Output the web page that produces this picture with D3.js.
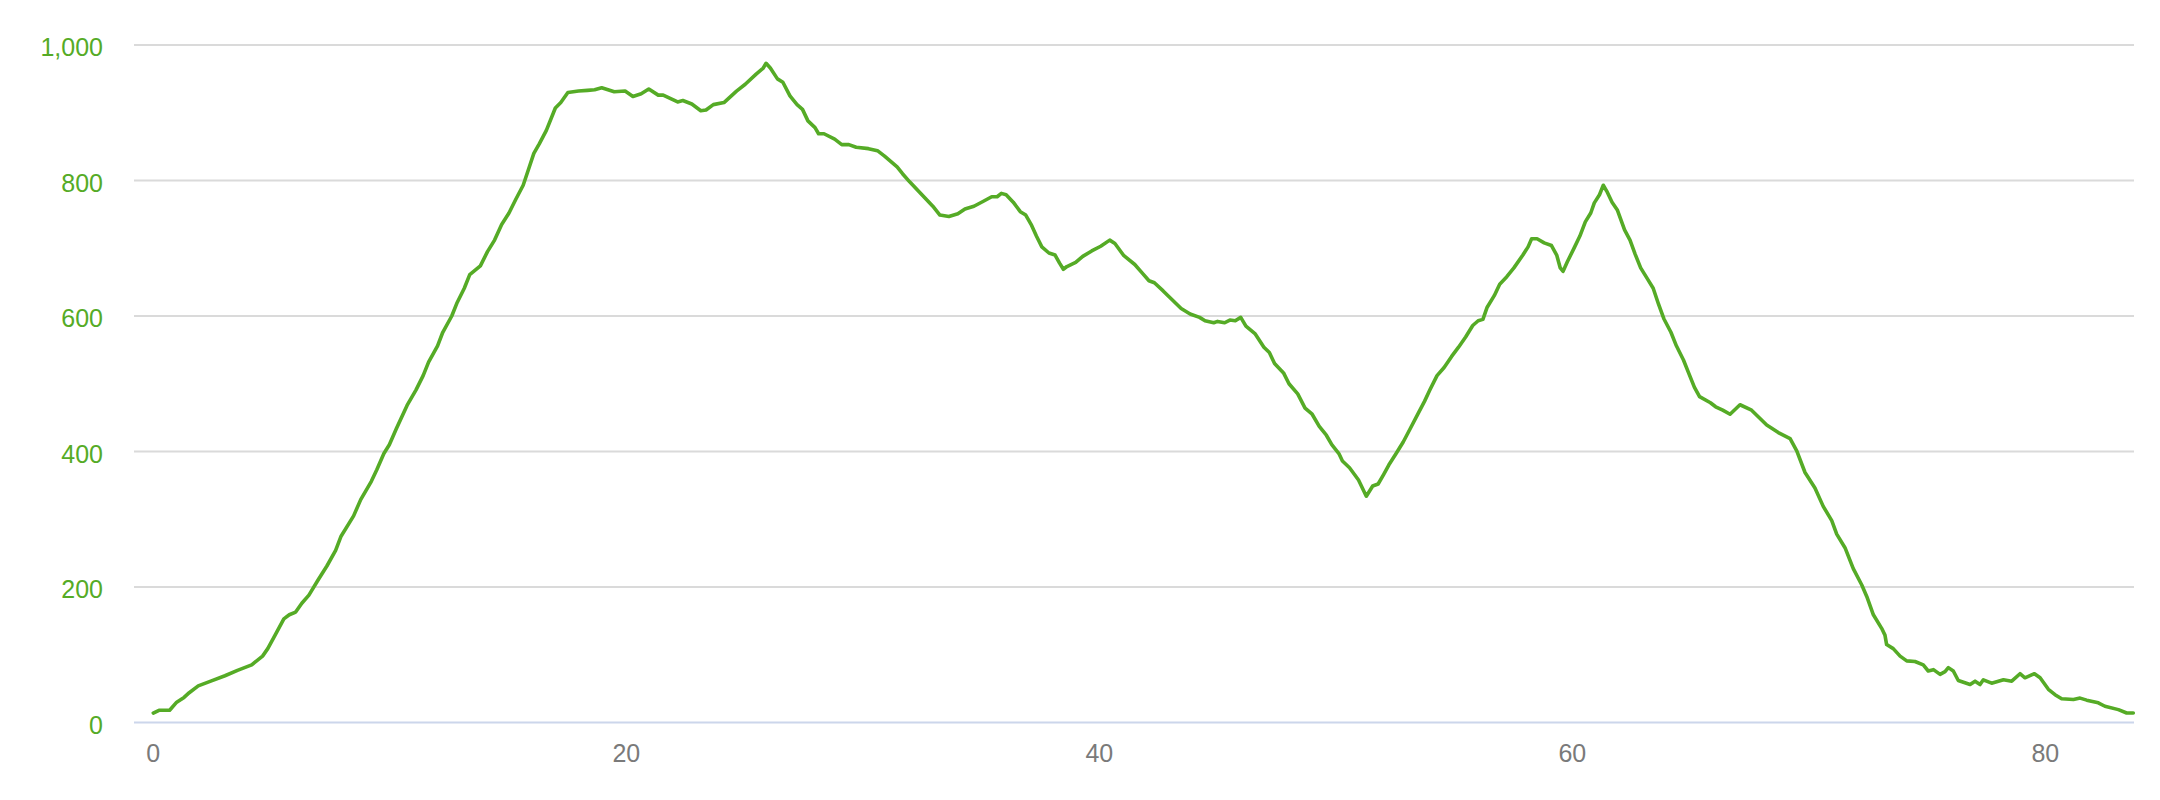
<!DOCTYPE html>
<html>
<head>
<meta charset="utf-8">
<script src="https://cdn.jsdelivr.net/npm/d3@7"></script>
<style>
  body { margin: 0; background: #fff; }
  svg { display: block; font-family: "Lucida Grande", "Liberation Sans", Arial, sans-serif; }
</style>
</head>
<body>
<div id="chart"></div>
<script>
// distance (km) along the route
const distance = [
  0, 0.24, 0.69, 0.99, 1.3, 1.52, 1.9, 2.43, 3.03, 3.56, 4.16, 4.62, 4.84, 5.15, 5.52, 5.75,
  6.02, 6.28, 6.58, 6.96, 7.34, 7.71, 7.94, 8.47, 8.77, 9.22, 9.45, 9.75, 9.98, 10.28, 10.73,
  11.11, 11.41, 11.64, 12.02, 12.24, 12.62, 12.85, 13.15, 13.38, 13.83, 14.13, 14.43, 14.73,
  15.04, 15.34, 15.64, 15.87, 16.09, 16.32, 16.62, 17.0, 17.23, 17.53, 17.98, 18.36, 18.66,
  18.96, 19.49, 19.95, 20.28, 20.63, 20.95, 21.35, 21.56, 22.17, 22.39, 22.77, 23.15, 23.37,
  23.68, 24.13, 24.66, 25.03, 25.49, 25.79, 25.91, 26.09, 26.39, 26.62, 26.92, 27.22, 27.45,
  27.68, 27.98, 28.13, 28.36, 28.81, 29.11, 29.41, 29.72, 30.24, 30.62, 30.92, 31.45, 31.68,
  31.98, 32.36, 32.66, 32.96, 33.26, 33.64, 34.02, 34.32, 34.7, 35.08, 35.45, 35.68, 35.86,
  36.06, 36.36, 36.66, 36.89, 37.12, 37.34, 37.57, 37.87, 38.13, 38.32, 38.48, 38.63, 39.0,
  39.3, 39.68, 40.06, 40.44, 40.66, 41.04, 41.5, 41.8, 42.1, 42.33, 42.7, 43.08, 43.46, 43.84,
  44.24, 44.47, 44.84, 45.0, 45.3, 45.52, 45.75, 45.98, 46.2, 46.58, 46.96, 47.19, 47.41,
  47.79, 48.02, 48.39, 48.7, 49.0, 49.3, 49.6, 49.83, 50.13, 50.28, 50.58, 50.96, 51.29,
  51.56, 51.79, 52.02, 52.24, 52.55, 52.85, 53.15, 53.45, 53.75, 53.98, 54.28, 54.58, 54.89,
  55.19, 55.49, 55.79, 56.02, 56.22, 56.4, 56.7, 56.93, 57.23, 57.53, 57.91, 58.13, 58.28,
  58.51, 58.81, 59.12, 59.34, 59.49, 59.61, 59.79, 60.1, 60.32, 60.55, 60.78, 60.93, 61.15,
  61.31, 61.46, 61.68, 61.91, 62.21, 62.44, 62.66, 62.89, 63.19, 63.42, 63.65, 63.87, 64.17,
  64.4, 64.7, 64.93, 65.16, 65.38, 65.84, 66.06, 66.36, 66.67, 67.09, 67.58, 68.22, 68.71,
  69.21, 69.49, 69.84, 70.26, 70.61, 70.97, 71.18, 71.53, 71.88, 72.24, 72.45, 72.73, 73.08,
  73.22, 73.29, 73.57, 73.86, 74.14, 74.49, 74.84, 75.05, 75.27, 75.55, 75.76, 75.9, 76.11,
  76.32, 76.82, 77.03, 77.24, 77.38, 77.73, 78.23, 78.58, 78.93, 79.14, 79.54, 79.78, 80.13,
  80.41, 80.69, 81.19, 81.47, 81.75, 82.24, 82.52, 83.09, 83.44, 83.72
];

// elevation (m) at each distance
const elevation = [
  14, 18, 18, 30, 37, 44, 54, 61, 69, 77, 85, 98, 109, 129, 153, 159,
  163, 176, 188, 210, 231, 254, 275, 305, 329, 356, 373, 397, 410, 434, 468,
  491, 512, 532, 556, 576, 600, 620, 641, 661, 674, 695, 712, 735,
  752, 773, 793, 817, 840, 854, 874, 907, 915, 930, 932, 933, 934,
  937, 931, 932, 924, 928, 935, 926, 926, 916, 918, 913, 903, 904,
  912, 915, 932, 942, 957, 966, 973, 966, 950, 945, 925, 912, 905,
  888, 878, 869, 869, 861, 853, 853, 849, 847, 844, 836, 820, 810,
  798, 784, 773, 762, 749, 747, 751, 758, 762, 769, 776, 776, 781,
  779, 768, 754, 749, 735, 718, 702, 693, 690, 678, 669, 673, 679,
  688, 696, 703, 712, 707, 689, 676, 664, 652, 649, 637, 624, 611, 603,
  598, 593, 590, 592, 590, 594, 593, 598, 585, 574, 554, 546, 530,
  516, 500, 485, 464, 455, 437, 424, 410, 397, 386, 376, 358, 334,
  349, 352, 366, 380, 397, 414, 434, 454, 474, 491, 512, 524, 540,
  554, 569, 586, 593, 595, 613, 630, 647, 658, 671, 690, 702, 714,
  714, 708, 704, 690, 671, 666, 680, 702, 718, 739, 752, 767, 779,
  793, 784, 768, 756, 727, 712, 691, 671, 654, 641, 617, 596, 576,
  556, 535, 515, 495, 481, 472, 466, 461, 455, 469, 461, 439, 428,
  419, 401, 369, 346, 319, 298, 278, 258, 227, 203, 186, 159, 139,
  129, 115, 109, 98, 91, 90, 85, 76, 78, 71, 75, 81, 76,
  62, 56, 61, 56, 63, 58, 63, 61, 72, 66, 72, 66, 49,
  41, 35, 34, 36, 33, 29, 24, 19, 14, 14
];

const yTicks = [0, 200, 400, 600, 800, 1000];
const xTicks = [0, 20, 40, 60, 80];

const width = 2160, height = 800;
const plot = { left: 134, right: 2134, top: 45, bottom: 722.5 };
const lineColor = "#55ab26";

const svg = d3.select("#chart").append("svg")
    .attr("width", width)
    .attr("height", height);

// x axis has a little padding on the left (0 is not at the edge)
const x = d3.scaleLinear()
    .domain([-0.816, 83.75])
    .range([plot.left, plot.right]);

const y = d3.scaleLinear()
    .domain([0, 1000])
    .range([plot.bottom, plot.top]);

// horizontal grid
svg.append("g")
  .selectAll("line")
  .data(yTicks.filter(d => d !== 0))
  .enter()
  .append("line")
    .attr("x1", plot.left)
    .attr("x2", plot.right)
    .attr("y1", d => y(d))
    .attr("y2", d => y(d))
    .attr("stroke", "#dadada")
    .attr("stroke-width", 2);

// baseline
svg.append("line")
    .attr("x1", plot.left)
    .attr("x2", plot.right)
    .attr("y1", y(0))
    .attr("y2", y(0))
    .attr("stroke", "#ccd6eb")
    .attr("stroke-width", 2);

// y labels
svg.append("g")
  .selectAll("text")
  .data(yTicks)
  .enter()
  .append("text")
    .attr("x", 103)
    .attr("y", d => y(d) + 2)
    .attr("dy", "0.36em")
    .attr("text-anchor", "end")
    .attr("fill", lineColor)
    .style("font-size", "25px")
    .text(d => d3.format(",")(d));

// x labels
svg.append("g")
  .selectAll("text")
  .data(xTicks)
  .enter()
  .append("text")
    .attr("x", d => x(d))
    .attr("y", 762)
    .attr("text-anchor", "middle")
    .attr("fill", "#7a7a7a")
    .style("font-size", "25px")
    .text(d => d);

// elevation line
const points = distance.map((d, i) => [d, elevation[i]]);
const line = d3.line()
    .x(d => x(d[0]))
    .y(d => y(d[1]));

svg.append("path")
    .datum(points)
    .attr("d", line)
    .attr("fill", "none")
    .attr("stroke", lineColor)
    .attr("stroke-width", 3.6)
    .attr("stroke-linejoin", "round")
    .attr("stroke-linecap", "round");
</script>
</body>
</html>
